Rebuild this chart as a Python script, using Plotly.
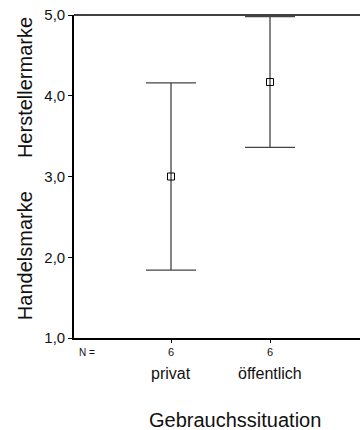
import plotly.graph_objects as go

# Mittelwerte und Fehlerbalken je Gebrauchssituation
kategorien = ["privat", "öffentlich"]
positionen = [1, 2]
n_werte = [6, 6]
mittelwerte = [3.0, 4.17]
fehler = [1.16, 0.81]
y_ticks = [1, 2, 3, 4, 5]

FONT = "Liberation Sans, Arial, sans-serif"

fig = go.Figure()
fig.add_trace(go.Scatter(
    x=positionen,
    y=mittelwerte,
    mode="markers",
    marker=dict(symbol="square-open", size=7, color="black", line=dict(width=1)),
    error_y=dict(type="data", array=fehler, symmetric=True,
                 color="#444444", thickness=1.3, width=25),
    showlegend=False,
))

# obere Rahmenlinie
fig.add_shape(type="line", xref="paper", yref="paper", x0=0, x1=1, y0=1, y1=1,
              line=dict(color="black", width=1.6))

# Kategorienamen unter den N-Angaben
for pos, name in zip(positionen, kategorien):
    fig.add_annotation(x=pos, xref="x", y=-0.109, yref="paper", text=name,
                       showarrow=False, yanchor="middle",
                       font=dict(family=FONT, size=16, color="#111"))

fig.add_annotation(x=0.01, xref="paper", y=-0.044, yref="paper", text="N =",
                   showarrow=False, yanchor="middle",
                   font=dict(family=FONT, size=10, color="#111"))

fig.add_annotation(x=0.563, xref="paper", y=-0.254, yref="paper",
                   text="Gebrauchssituation", showarrow=False, yanchor="middle",
                   font=dict(family=FONT, size=20, color="#111"))

# Beschriftung der Skalenenden
for text, yv in [("Herstellermarke", 4.096), ("Handelsmarke", 2.015)]:
    fig.add_annotation(x=-0.171, xref="paper", y=yv, yref="y", text=text,
                       textangle=-90, showarrow=False,
                       xanchor="center", yanchor="middle",
                       font=dict(family=FONT, size=20, color="#111"))

fig.update_layout(
    width=360, height=430,
    margin=dict(l=74, r=0, t=15, b=92),
    paper_bgcolor="white", plot_bgcolor="white",
    separators=",.",
    font=dict(family=FONT, color="#111"),
    xaxis=dict(range=[0.0202, 2.909], tickvals=positionen,
               ticktext=[str(n) for n in n_werte],
               tickfont=dict(size=11), ticks="outside", ticklen=3,
               tickcolor="black", showgrid=False, zeroline=False,
               showline=True, linecolor="black", linewidth=2),
    yaxis=dict(range=[1, 5], tickvals=y_ticks, tickformat=".1f",
               tickfont=dict(size=15), ticks="outside", ticklen=4,
               tickcolor="black", showgrid=False, zeroline=False,
               showline=True, linecolor="black", linewidth=1.6),
)

fig.write_html("out.html")
